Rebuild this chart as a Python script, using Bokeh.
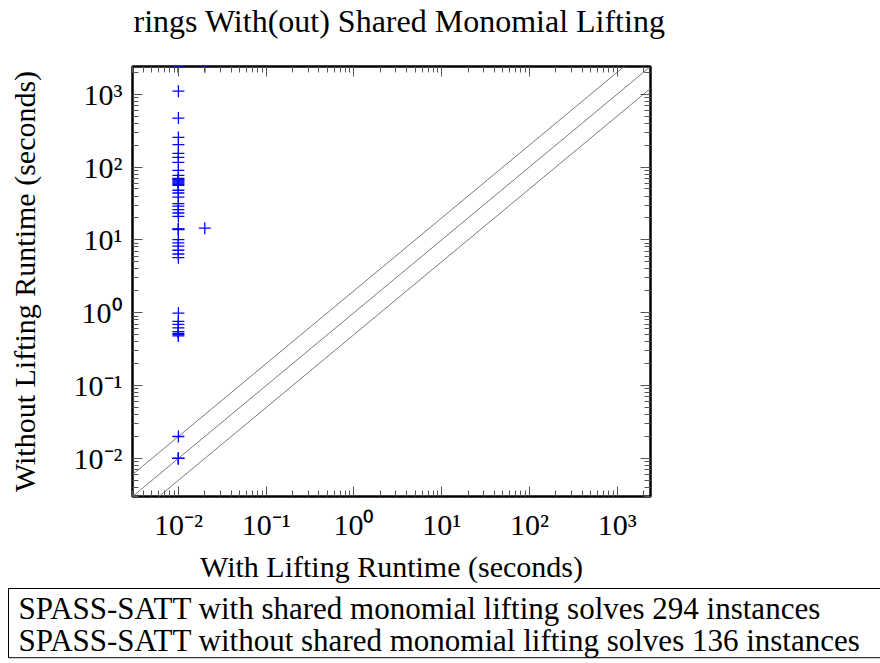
from bokeh.plotting import figure
from bokeh.models import (Range1d, LogAxis, FixedTicker, CustomJSTickFormatter, Title)
from bokeh.embed import file_html
from bokeh.resources import INLINE

# ---- texts ----
title_text = "rings With(out) Shared Monomial Lifting"
x_label = "With Lifting Runtime (seconds)"
y_label = "Without Lifting Runtime (seconds)"
legend_lines = [
    "SPASS-SATT with shared monomial lifting solves 294 instances",
    "SPASS-SATT without shared monomial lifting solves 136 instances",
]

# ---- axis ----
axis_min = 0.003
axis_max = 2400
major_ticks = [0.01, 0.1, 1, 10, 100, 1000]
minor_ticks = [m * 10.0 ** k for k in range(-3, 4) for m in range(2, 10)]

# ---- data (seconds) ----
with_runtime = [
    0.01, 0.01, 0.01, 0.02,
    0.01, 0.01, 0.01, 0.01, 0.01, 0.01, 0.01, 0.01, 0.01,
    0.01, 0.01, 0.01, 0.01, 0.01, 0.01, 0.01, 0.01, 0.01,
    0.01, 0.01, 0.01, 0.01, 0.01, 0.01, 0.01, 0.01,
    0.01, 0.01, 0.02,
    0.01, 0.01, 0.01, 0.01, 0.01, 0.01,
    0.01, 0.01, 0.01, 0.01, 0.01, 0.01, 0.01, 0.01,
    0.01, 0.01, 0.01, 0.01,
]
without_runtime = [
    2400, 2400, 2400, 2400,
    1100, 470, 255, 203, 154, 136, 116, 90, 77,
    70, 68, 66, 64, 62, 60, 58, 56, 48,
    44, 38.7, 31.4, 29, 26, 23.4, 21, 14,
    13.8, 14.2, 14.5,
    10.1, 9.1, 8.2, 7.2, 6.4, 5.7,
    0.99, 0.76, 0.69, 0.62, 0.55, 0.52, 0.5, 0.48,
    0.02, 0.01, 0.01, 0.01,
]

diag_factors = [2.0, 1.0, 0.5]

SERIF = "Liberation Serif"
FS = "30px"

p = figure(
    width=880, height=663,
    x_axis_type="log", y_axis_type="log",
    x_axis_location=None, y_axis_location=None,
    x_range=Range1d(axis_min, axis_max), y_range=Range1d(axis_min, axis_max),
    output_backend="svg", toolbar_location=None, title=None,
    min_border_left=132, min_border_right=230, min_border_top=66, min_border_bottom=167,
)
p.grid.visible = False
p.outline_line_color = "black"
p.outline_line_width = 2.5
p.background_fill_color = "white"
p.border_fill_color = "white"

fmt_code = """
const sup = {"-": "\u207b", "0": "\u2070", "1": "\u00b9", "2": "\u00b2", "3": "\u00b3",
             "4": "\u2074", "5": "\u2075", "6": "\u2076", "7": "\u2077", "8": "\u2078", "9": "\u2079"};
const e = Math.round(Math.log10(tick));
return "10" + String(e).split("").map(c => sup[c]).join("");
"""


def make_axis(with_labels):
    ax = LogAxis(ticker=FixedTicker(ticks=major_ticks, minor_ticks=minor_ticks),
                 formatter=CustomJSTickFormatter(code=fmt_code))
    ax.axis_line_color = None
    ax.major_tick_in = 10
    ax.major_tick_out = 0
    ax.minor_tick_in = 6
    ax.minor_tick_out = 0
    ax.major_tick_line_color = "#555555"
    ax.minor_tick_line_color = "#555555"
    ax.major_tick_line_width = 1
    ax.minor_tick_line_width = 1
    if with_labels:
        ax.major_label_text_font = SERIF
        ax.major_label_text_font_size = FS
        ax.major_label_text_color = "black"
        ax.axis_label_text_font = SERIF
        ax.axis_label_text_font_size = FS
        ax.axis_label_text_font_style = "normal"
        ax.axis_label_text_color = "black"
    else:
        ax.major_label_text_color = None
        ax.major_label_text_font_size = "8px"
        ax.major_label_standoff = 0
    return ax


x_axis = make_axis(True)
x_axis.axis_label = x_label
x_axis.major_label_standoff = 11
x_axis.axis_label_standoff = 6
y_axis = make_axis(True)
y_axis.axis_label = y_label
y_axis.major_label_standoff = 10
y_axis.axis_label_standoff = 30

p.add_layout(y_axis, "left")
p.add_layout(x_axis, "below")
p.add_layout(make_axis(False), "right")
p.add_layout(make_axis(False), "above")

# title above the plot
p.add_layout(Title(text=title_text, text_font=SERIF, text_font_size="32px",
                   text_font_style="normal", text_color="black", align="left",
                   vertical_align="top", offset=1, standoff=0,
                   padding=dict(left=0, right=0, top=0, bottom=26)), "above")

# legend box below the x axis (text only)
p.add_layout(Title(text="\n".join(legend_lines), text_font=SERIF, text_font_size="31px",
                   text_font_style="normal", text_color="black", align="left",
                   vertical_align="top", offset=-124, standoff=6,
                   text_line_height=0.92,
                   border_line_color="black", border_line_width=1,
                   background_fill_color=None,
                   padding=dict(left=10, right=100, top=2, bottom=0)), "below")

# diagonal reference lines y = f*x
for f in diag_factors:
    p.line(x=[axis_min, axis_max], y=[f * axis_min, f * axis_max],
           line_color="#7a7a7a", line_width=1)

p.scatter(x=with_runtime, y=without_runtime, marker="cross", size=12,
          line_color="#0000ff", line_width=1.3)

open("out.html", "w").write(file_html(p, INLINE))
